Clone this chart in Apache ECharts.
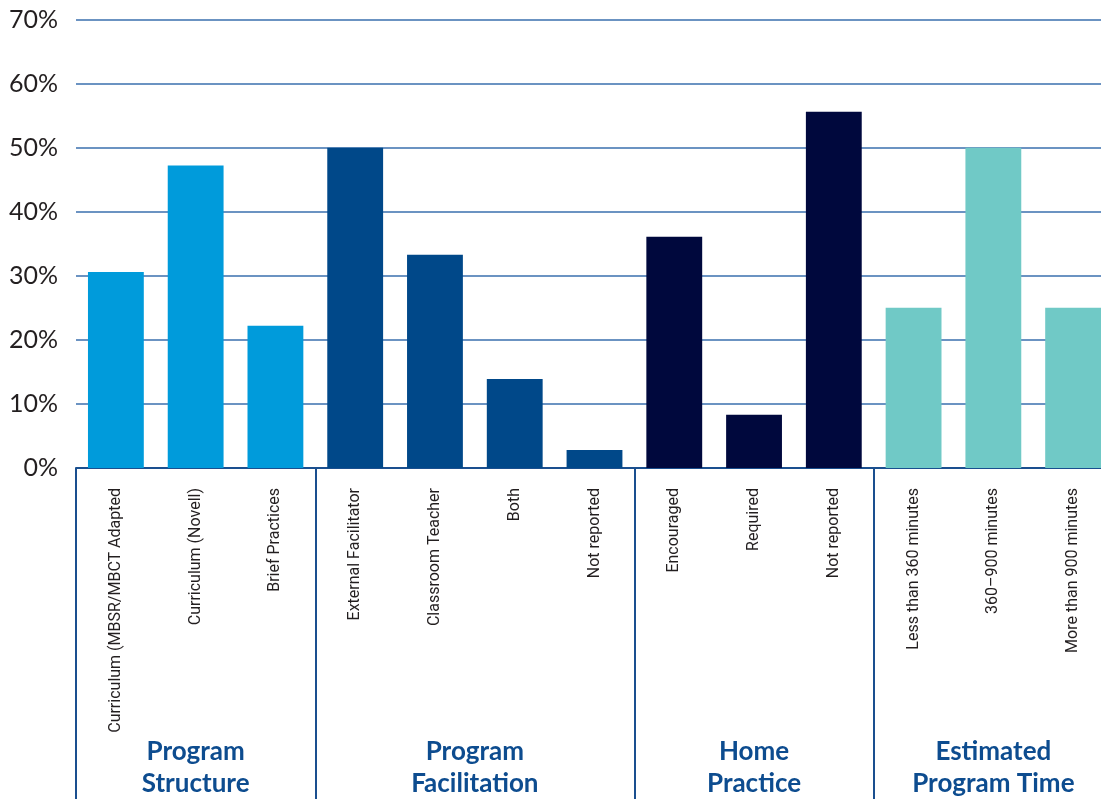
<!DOCTYPE html>
<html>
<head>
<meta charset="utf-8">
<script src="https://cdn.jsdelivr.net/npm/echarts@6/dist/echarts.min.js"></script>
<style>html,body{margin:0;padding:0;background:#fff;overflow:hidden}#c{width:1101px;height:799px}</style>
</head>
<body>
<div id="c"></div>
<script>
const categories = ["Curriculum (MBSR/MBCT Adapted", "Curriculum (Novell)", "Brief Practices",
  "External Facilitator", "Classroom Teacher", "Both", "Not reported",
  "Encouraged", "Required", "Not reported",
  "Less than 360 minutes", "360–900 minutes", "More than 900 minutes"];
const values = [30.6, 47.2, 22.2, 50.0, 33.3, 13.9, 2.8, 36.1, 8.3, 55.6, 25.0, 50.0, 25.0];
const groupOf = [0, 0, 0, 1, 1, 1, 1, 2, 2, 2, 3, 3, 3];
const groupNames = ["Program\nStructure", "Program\nFacilitation", "Home\nPractice", "Estimated\nProgram Time"];
const groupCenters = [1, 4.5, 8, 11];
const groupStarts = [0, 3, 7, 10];
const yTicks = [0, 10, 20, 30, 40, 50, 60, 70];
const groupColors = ["#009BDB", "#004889", "#00083D", "#70C9C6"];

const chart = echarts.init(document.getElementById('c'));
chart.setOption({
  animation: false,
  grid: { left: 76, right: -12, top: 19.5, bottom: 331, containLabel: false, outerBoundsMode: 'none' },
  xAxis: [{
    type: 'category',
    data: categories,
    position: 'bottom',
    axisLine: { show: true, onZero: false, lineStyle: { color: '#1a4f8f', width: 2 } },
    axisTick: {
      show: true, length: 335, inside: false,
      interval: function (index) { return groupStarts.indexOf(index) >= 0; },
      lineStyle: { color: '#1a4f8f', width: 2 }
    },
    axisLabel: {
      rotate: 90, margin: 20, interval: 0,
      fontFamily: 'Roboto, sans-serif',
      fontSize: 16, color: '#231f20'
    }
  }, {
    type: 'value',
    position: 'bottom',
    min: -0.5, max: 12.5, interval: 0.5,
    axisLine: { show: false }, axisTick: { show: false }, splitLine: { show: false },
    axisLabel: {
      margin: 268, showMinLabel: true, showMaxLabel: true,
      fontFamily: 'Lato, sans-serif', fontWeight: 'bold', fontSize: 26,
      lineHeight: 32, color: '#0d4c8f', align: 'center',
      formatter: function (v) {
        const i = groupCenters.indexOf(v);
        return i >= 0 ? groupNames[i] : '';
      }
    }
  }],
  yAxis: {
    type: 'value', min: 0, max: 70, interval: 10,
    axisLine: { show: false }, axisTick: { show: false },
    splitLine: { show: true, lineStyle: { color: '#3a6fae', width: 1.5 } },
    axisLabel: {
      margin: 18, fontFamily: 'Lato, sans-serif', fontSize: 25, color: '#231f20',
      formatter: function (v) { return yTicks.indexOf(v) >= 0 ? v + '%' : ''; }
    }
  },
  series: [{
    type: 'bar',
    xAxisIndex: 0,
    barWidth: '70%',
    data: values.map(function (v, i) {
      return { value: v, itemStyle: { color: groupColors[groupOf[i]] } };
    })
  }]
});
</script>
</body>
</html>
